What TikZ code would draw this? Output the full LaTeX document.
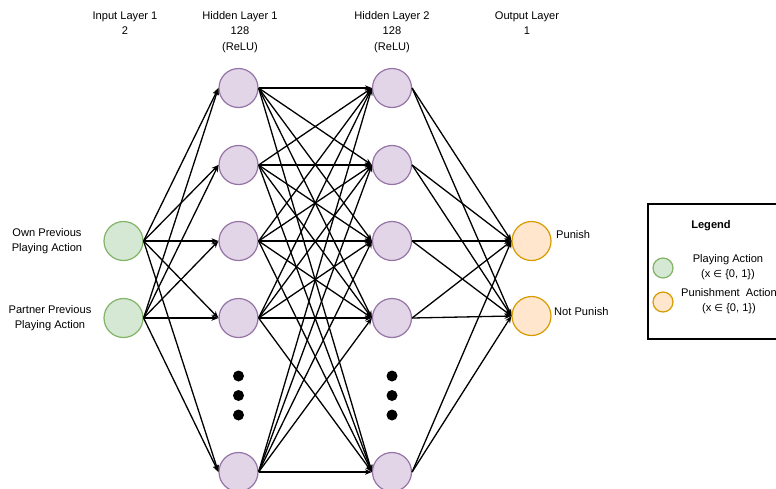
\documentclass[tikz,border=0pt]{standalone}
\usepackage{fontspec}
\setmainfont{Liberation Sans}
\newfontfamily\dejavu{DejaVu Sans}
\usetikzlibrary{arrows.meta}
\definecolor{gfill}{HTML}{D5E8D4}\definecolor{gline}{HTML}{82B366}
\definecolor{pfill}{HTML}{E1D5E7}\definecolor{pline}{HTML}{9673A6}
\definecolor{ofill}{HTML}{FFE6CC}\definecolor{oline}{HTML}{D79B00}
\tikzset{
  neuron/.style={circle,minimum size=39pt,inner sep=0pt,line width=1.2pt},
  inp/.style={neuron,draw=gline,fill=gfill},
  hid/.style={neuron,draw=pline,fill=pfill},
  outn/.style={neuron,draw=oline,fill=ofill},
  conn/.style={line width=1.3pt,-{Stealth[length=7pt,width=5.5pt]}},
  dot/.style={circle,fill=black,minimum size=11pt,inner sep=0pt},
  lbl/.style={font=\fontsize{11.1}{15.5}\selectfont,align=center,inner sep=0pt},
  legc/.style={circle,minimum size=20pt,inner sep=0pt,line width=1.2pt}
}
\begin{document}
\begin{tikzpicture}[x=1pt,y=-1pt]
\useasboundingbox (0,0) rectangle (776,488);
\clip (0,0) rectangle (776,488);
% headers
\node[lbl] (hin) at (125,23) {Input Layer 1\\2};
\node[lbl] (hh1) at (240,32) {Hidden Layer 1\\128\\(ReLU)};
\node[lbl] (hh2) at (392,32) {Hidden Layer 2\\128\\(ReLU)};
\node[lbl] (hout) at (527,23) {Output Layer\\1};
% input
\node[inp] (i1) at (123.5,241) {};
\node[inp] (i2) at (123.5,318) {};
\node[lbl] (li1) at (47,241) {Own Previous\\Playing Action};
\node[lbl] (li2) at (50,318) {Partner Previous\\Playing Action};
% hidden layers
\foreach \n/\y in {1/88,2/165,3/241,4/318,5/472}{
  \node[hid] (a\n) at (238.5,\y) {};
  \node[hid] (b\n) at (392,\y) {};
}
\foreach \y [count=\k] in {376,395.5,415}{
  \node[dot] (da\k) at (238.5,\y) {};
  \node[dot] (db\k) at (392,\y) {};
}
% output
\node[outn] (o1) at (531.5,241) {};
\node[outn] (o2) at (531.5,316) {};
\node[lbl,anchor=west] (lo1) at (556,235) {Punish};
\node[lbl,anchor=west] (lo2) at (554,312) {Not Punish};
% connections
\foreach \i in {1,2}{\foreach \j in {1,...,5}{\draw[conn] (i\i.east) -- (a\j.west);}}
\foreach \i in {1,...,5}{\foreach \j in {1,...,5}{\draw[conn] (a\i.east) -- (b\j.west);}}
\foreach \i in {1,...,5}{\foreach \j in {1,2}{\draw[conn] (b\i.east) -- (o\j.west);}}
% legend
\node[draw=black,line width=1.5pt,minimum width=143pt,minimum height=135pt,anchor=north west,inner sep=0pt] (leg) at (647,203) {};
\node[lbl,font=\fontsize{11.1}{15.5}\selectfont\bfseries] (legt) at (711,226) {Legend};
\node[legc,draw=gline,fill=gfill] (lg1) at (663,268) {};
\node[legc,draw=oline,fill=ofill] (lg2) at (663,302) {};
\node[lbl] (lt1) at (728,267) {Playing Action\\(x {\dejavu\fontsize{10}{10}\selectfont ∈} \{0, 1\})};
\node[lbl] (lt2) at (729,301) {Punishment\ \ Action\\(x {\dejavu\fontsize{10}{10}\selectfont ∈} \{0, 1\})};
\end{tikzpicture}
\end{document}
